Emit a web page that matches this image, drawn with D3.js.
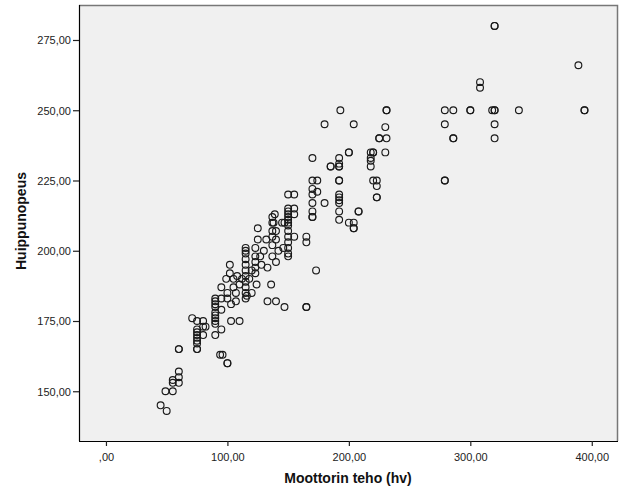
<!DOCTYPE html>
<html>
<head>
<meta charset="utf-8">
<script src="https://cdn.jsdelivr.net/npm/d3@7"></script>
<style>
  html, body { margin: 0; padding: 0; background: #ffffff; }
  svg { display: block; }
</style>
</head>
<body>
<div id="chart"></div>
<script>
// ---- data ----
const horsepower = [
  45, 50, 49, 55, 55, 55, 60, 60, 60, 60, 60,
  71, 75, 75, 75, 75, 75, 75, 75, 75, 75,
  80, 80, 80, 82, 90, 94, 96, 100, 100,
  90, 90, 90, 90, 90, 90, 90, 90, 90,
  95, 95, 95, 95, 99, 100, 100, 103, 103, 110,
  102, 102, 105, 107, 107,
  115, 115, 115, 115, 115, 115, 115, 115, 115, 115, 115,
  116, 120,
  123, 123, 123, 123, 123,
  125, 125,
  133, 140, 133, 136, 124, 140, 146,
  137, 137, 137, 137, 137, 137, 138, 139, 140, 140, 142, 145, 147,
  147,
  150, 150, 150, 150, 150, 150, 150, 150, 150, 150, 150, 150, 150, 150,
  155, 155, 155, 155,
  165, 165, 165, 165, 173,
  170, 170, 170, 170, 170, 170, 170, 170,
  174, 174, 180, 180, 185, 185,
  192, 192, 192, 192, 192, 192, 192, 192, 192, 192, 192, 192, 193,
  200, 200, 200, 204, 204, 204, 204, 208, 208,
  218, 218, 218, 218, 220, 220, 220, 223, 223, 223, 223,
  225, 225, 230, 230, 231, 231, 231,
  279, 279, 279, 279, 286, 286, 286, 300, 300, 308, 308,
  318, 320, 320, 320, 320, 320, 320, 340, 389, 394, 394,
  108, 110, 112, 118, 120, 127, 130, 132, 105, 128
];
const topSpeed = [
  145, 143, 150, 150, 153, 154, 153, 155, 157, 165, 165,
  176, 175, 172, 171, 170, 169, 168, 167, 165, 165,
  175, 173, 170, 173, 170, 163, 163, 160, 160,
  183, 182, 181, 180, 178, 177, 176, 175, 174,
  172, 179, 183, 187, 190, 185, 183, 175, 181, 175,
  195, 192, 187, 185, 182,
  201, 200, 199, 197, 195, 193, 191, 189, 187, 185, 183,
  184, 185,
  201, 198, 196, 194, 192,
  208, 204,
  182, 182, 194, 188, 188, 196, 201,
  212, 210, 207, 205, 202, 198, 210, 213, 207, 204, 200, 210, 210,
  180,
  220, 215, 214, 213, 212, 211, 210, 209, 207, 205, 203, 201, 199, 198,
  220, 215, 213, 205,
  205, 203, 180, 180, 193,
  233, 225, 222, 220, 217, 214, 212, 212,
  225, 221, 217, 245, 230, 230,
  233, 231, 230, 230, 225, 225, 220, 219, 218, 217, 214, 211, 250,
  235, 235, 210, 210, 208, 208, 245, 214, 214,
  235, 233, 232, 230, 235, 235, 225, 225, 223, 219, 219,
  240, 240, 244, 235, 250, 250, 240,
  250, 245, 225, 225, 250, 240, 240, 250, 250, 260, 258,
  250, 250, 250, 245, 240, 280, 280, 250, 266, 250, 250,
  191, 188, 190, 190, 193, 198, 200, 204, 190, 195
];
const xTickValues = [0, 100, 200, 300, 400];
const xTickLabels = [",00", "100,00", "200,00", "300,00", "400,00"];
const yTickValues = [150, 175, 200, 225, 250, 275];
const yTickLabels = ["150,00", "175,00", "200,00", "225,00", "250,00", "275,00"];
const xTitle = "Moottorin teho (hv)";
const yTitle = "Huippunopeus";

// ---- layout ----
const W = 626, H = 501;
const plot = { left: 79, right: 618, top: 5, bottom: 441 };

const svg = d3.select("#chart").append("svg")
  .attr("width", W).attr("height", H)
  .style("font-family", "Arial, 'Liberation Sans', sans-serif");

const x = d3.scaleLinear().domain([-22.2, 421.6]).range([plot.left, plot.right]);
const y = d3.scaleLinear().domain([132.3, 287.45]).range([plot.bottom, plot.top]);

// plot background
svg.append("rect")
  .attr("x", plot.left).attr("y", plot.top)
  .attr("width", plot.right - plot.left).attr("height", plot.bottom - plot.top)
  .attr("fill", "#f0f0f0");

// top & right frame (gray)
svg.append("path")
  .attr("d", `M${plot.left},${plot.top + 0.5}H${plot.right - 0.5}V${plot.bottom}`)
  .attr("fill", "none").attr("stroke", "#777").attr("stroke-width", 1.5);

// axes
const xAxis = d3.axisBottom(x).tickValues(xTickValues)
  .tickFormat((d, i) => xTickLabels[i]).tickSize(5).tickSizeOuter(0);
const yAxis = d3.axisLeft(y).tickValues(yTickValues)
  .tickFormat((d, i) => yTickLabels[i]).tickSize(6).tickSizeOuter(0);

const gx = svg.append("g").attr("transform", `translate(0,${plot.bottom})`).call(xAxis);
const gy = svg.append("g").attr("transform", `translate(${plot.left},0)`).call(yAxis);

[gx, gy].forEach(g => {
  g.select(".domain").attr("stroke", "#000").attr("stroke-width", 1.2);
  g.selectAll(".tick line").attr("stroke", "#222").attr("stroke-width", 1.2);
  g.selectAll(".tick text").attr("fill", "#222").style("font-size", "11px")
    .style("font-family", "Arial, 'Liberation Sans', sans-serif");
});
gx.select(".domain").attr("d", `M${plot.left},0.5H${plot.right}`);
gy.select(".domain").attr("d", `M0.5,${plot.top}V${plot.bottom}`);
gx.selectAll(".tick text").attr("dy", "0").attr("y", 20);
gy.selectAll(".tick text").attr("x", -8).attr("dy", "0.35em");

// points
const pts = horsepower.map((h, i) => ({ h, s: topSpeed[i] }));
svg.append("g").selectAll("circle").data(pts).join("circle")
  .attr("cx", d => x(d.h)).attr("cy", d => y(d.s)).attr("r", 3.4)
  .attr("fill", "none").attr("stroke", "#1a1a1a").attr("stroke-width", 1.15);

// titles
svg.append("text")
  .attr("x", 348).attr("y", 483)
  .attr("text-anchor", "middle")
  .style("font-size", "14px").style("font-weight", "bold").attr("fill", "#111")
  .text(xTitle);

svg.append("text")
  .attr("transform", `translate(26,${(plot.top + plot.bottom) / 2 - 2}) rotate(-90)`)
  .attr("text-anchor", "middle")
  .style("font-size", "14px").style("font-weight", "bold").attr("fill", "#111")
  .text(yTitle);
</script>
</body>
</html>
